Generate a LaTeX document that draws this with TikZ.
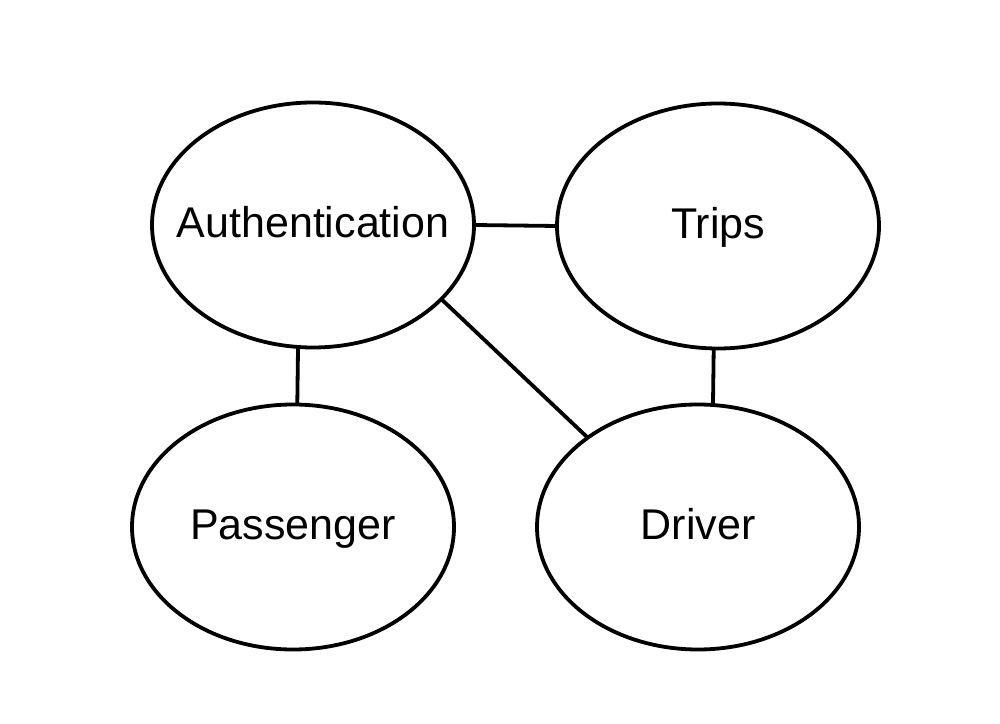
\documentclass[tikz,border=0pt]{standalone}
\usepackage{fontspec}
\setmainfont{Liberation Sans}
\usetikzlibrary{shapes.geometric}

\begin{document}
\begin{tikzpicture}[x=1pt,y=1pt,line width=3.8pt]

          \useasboundingbox (0,0) rectangle (1000,723);

          \begin{scope}[every node/.style={ellipse,draw,minimum width=322pt,minimum height=245pt,
              inner xsep=-60pt,inner ysep=0pt,outer sep=0pt,text height=31pt,text depth=6pt,
              font=\fontsize{43}{50}\selectfont}]
            \node (auth)      at (313,498) {Authentication};
            \node (trips)     at (718,497) {Trips};
            \node (passenger) at (293,196) {Passenger};
            \node (driver)    at (698,196) {Driver};
          \end{scope}

          \draw (auth.east) -- (trips.west);
          \draw (auth.263) -- (passenger.88);
          \draw (trips.268) -- (driver.83);
          \draw (auth.-30) -- (driver.141);

        \end{tikzpicture}
\end{document}
